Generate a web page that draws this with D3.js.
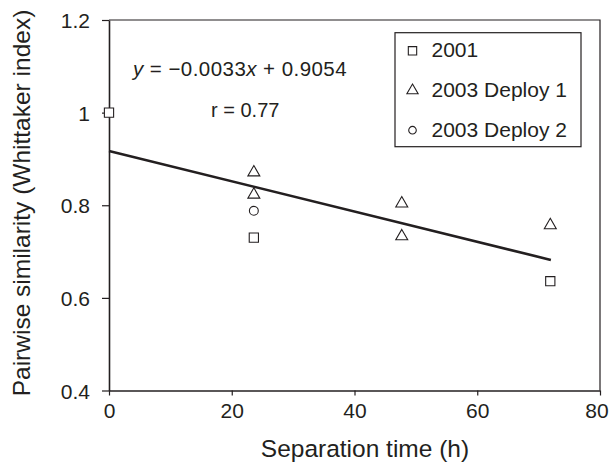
<!DOCTYPE html>
<html><head><meta charset="utf-8">
<script src="https://cdn.jsdelivr.net/npm/d3@7"></script>
<style>
html,body{margin:0;padding:0;background:#fff;}
svg{display:block;font-family:Arial,"Liberation Sans",Helvetica,sans-serif;}
</style></head>
<body>
<svg id="chart" width="609" height="462"></svg>
<script>
// ---- data ----
const xTicks = [0, 20, 40, 60, 80];
const yTicks = [0.4, 0.6, 0.8, 1.0, 1.2];
const yTickLabels = ["0.4", "0.6", "0.8", "1", "1.2"];
const x2001 = [0, 23.6, 71.9];
const y2001 = [1.0, 0.73, 0.636];
const xDeploy1 = [23.6, 23.6, 47.7, 47.7, 71.9];
const yDeploy1 = [0.873, 0.825, 0.806, 0.735, 0.759];
const xDeploy2 = [23.6];
const yDeploy2 = [0.788];
const fitX = [0, 72];
const fitY = [0.917, 0.682];
const legendLabels = ["2001", "2003 Deploy 1", "2003 Deploy 2"];
const legendSymbols = ["square", "triangle", "circle"];

// ---- layout ----
const svg = d3.select("#chart");
const L = 109, R = 600, T = 20, B = 390.5;
const x = d3.scaleLinear().domain([0, 80]).range([L, R]);
const y = d3.scaleLinear().domain([0.4, 1.2]).range([B, T]);
const ink = "#231f20";

// frame (top & right)
svg.append("path")
  .attr("d", `M${L},${T}H${R}V${B}`)
  .attr("fill", "none").attr("stroke", ink).attr("stroke-width", 1.2);

// axes
const xAxis = svg.append("g").attr("transform", `translate(0,${B})`)
  .call(d3.axisBottom(x).tickValues(xTicks).tickSize(5).tickSizeOuter(0).tickPadding(12));
const yAxis = svg.append("g").attr("transform", `translate(${L},0)`)
  .call(d3.axisLeft(y).tickValues(yTicks).tickFormat((d, i) => yTickLabels[i]).tickSize(7).tickSizeOuter(0).tickPadding(12));
[xAxis, yAxis].forEach(g => {
  g.select(".domain").attr("stroke", ink).attr("stroke-width", 1.6);
  g.selectAll(".tick line").attr("stroke", ink).attr("stroke-width", 1.2);
  g.selectAll(".tick text").attr("fill", ink).style("font-size", "21px")
    .style("font-family", "Arial, 'Liberation Sans', sans-serif");
});
xAxis.selectAll(".tick text").attr("dy", "0.5em").attr("dx", d => d === 80 ? -3.5 : 0);
yAxis.selectAll(".tick text").attr("dy", "0.36em");

// axis titles
svg.append("text").attr("x", 365).attr("y", 456.5).attr("text-anchor", "middle")
  .attr("fill", ink).style("font-size", "24.5px").text("Separation time (h)");
svg.append("text").attr("transform", "translate(30,203) rotate(-90)").attr("text-anchor", "middle")
  .attr("fill", ink).style("font-size", "24.5px").text("Pairwise similarity (Whittaker index)");

// regression line
svg.append("line")
  .attr("x1", x(fitX[0])).attr("y1", y(fitY[0]))
  .attr("x2", x(fitX[1])).attr("y2", y(fitY[1]))
  .attr("stroke", ink).attr("stroke-width", 2.6);

// symbols
const sym = {
  square: d3.symbol().type(d3.symbolSquare).size(85),
  triangle: d3.symbol().type(d3.symbolTriangle).size(62),
  circle: d3.symbol().type(d3.symbolCircle).size(62)
};
function drawPts(xs, ys, kind) {
  svg.append("g").selectAll("path").data(xs).join("path")
    .attr("d", sym[kind]())
    .attr("transform", (d, i) => `translate(${x(d)},${y(ys[i]) + (kind === "triangle" ? 1 : 0)})`)
    .attr("fill", "#fff").attr("stroke", ink).attr("stroke-width", 1.1);
}
drawPts(x2001, y2001, "square");
drawPts(xDeploy1, yDeploy1, "triangle");
drawPts(xDeploy2, yDeploy2, "circle");

// equation text
const eq = svg.append("text").attr("x", 133).attr("y", 76).attr("fill", ink)
  .style("font-size", "20.5px").style("letter-spacing", "0.45px");
eq.append("tspan").style("font-style", "italic").text("y");
eq.append("tspan").text(" = \u22120.0033");
eq.append("tspan").style("font-style", "italic").text("x");
eq.append("tspan").text(" + 0.9054");
svg.append("text").attr("x", 211).attr("y", 116.5).attr("fill", ink).style("font-size", "20px").text("r = 0.77");

// legend
const lg = svg.append("g");
lg.append("rect").attr("x", 395).attr("y", 32.7).attr("width", 186).attr("height", 114)
  .attr("fill", "#fff").attr("stroke", ink).attr("stroke-width", 1.2);
const legSym = {
  square: d3.symbol().type(d3.symbolSquare).size(70),
  triangle: d3.symbol().type(d3.symbolTriangle).size(55),
  circle: d3.symbol().type(d3.symbolCircle).size(45)
};
legendLabels.forEach((lab, i) => {
  const by = 57.3 + i * 39.7;
  lg.append("path").attr("d", legSym[legendSymbols[i]]())
    .attr("transform", `translate(412.5,${by - 6.5})`)
    .attr("fill", "#fff").attr("stroke", ink).attr("stroke-width", 1.1);
  lg.append("text").attr("x", 431.5).attr("y", by).attr("fill", ink).style("font-size", "21px").text(lab);
});
</script>
</body></html>
